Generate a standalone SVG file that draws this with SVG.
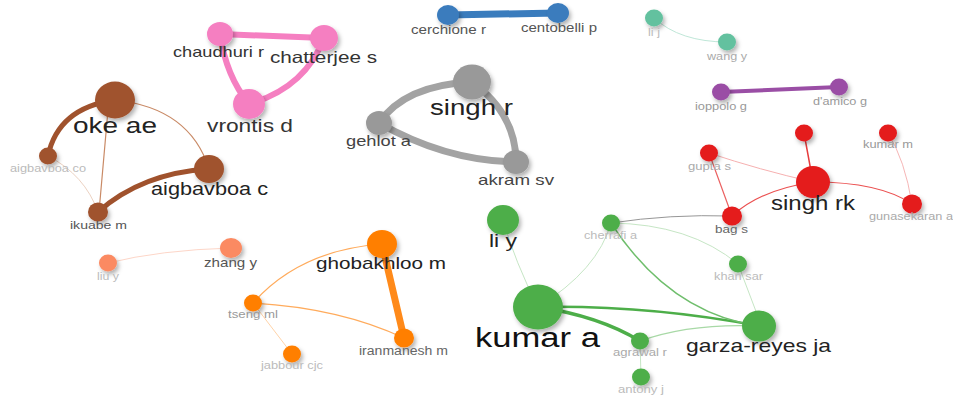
<svg xmlns="http://www.w3.org/2000/svg" width="953" height="398" viewBox="0 0 953 398">
<defs>
<filter id="sh" x="-50%" y="-50%" width="200%" height="200%">
<feDropShadow dx="2" dy="3" stdDeviation="2" flood-color="#000" flood-opacity="0.3"/>
</filter>
</defs>
<style>
text{font-family:"Liberation Sans",Arial,sans-serif;text-anchor:middle}
.e{fill:none;stroke-linecap:round}
.n{filter:url(#sh)}
.br{fill:#a0522d}.pk{fill:#f57fc1}.gy{fill:#999}.bl{fill:#3a7cbd}.tl{fill:#63c19f}.pu{fill:#9a4ea5}.rd{fill:#e41a1c}.gr{fill:#4dae49}.or{fill:#ff7f00}.sa{fill:#fb8a62}
</style>
<rect width="953" height="398" fill="#fff"/>
<g id="connectors">
<path class="e" d="M48,156 Q58,108 115,100" stroke="#a0522d" stroke-width="5"/>
<path class="e" d="M115,100 Q190,108 209,169" stroke="#c98a66" stroke-width="1.2"/>
<path class="e" d="M108,110 L99,212" stroke="#c98a66" stroke-width="1.2"/>
<path class="e" d="M48,156 Q85,175 98,212" stroke="#ecd2c2" stroke-width="1"/>
<path class="e" d="M98,212 Q142,173 209,169" stroke="#a0522d" stroke-width="5"/>
<path class="e" d="M220,34 L324,38" stroke="#f57fc1" stroke-width="6"/>
<path class="e" d="M220,34 Q226,76 249,104" stroke="#f57fc1" stroke-width="6"/>
<path class="e" d="M324,38 Q305,88 249,104" stroke="#f57fc1" stroke-width="6"/>
<path class="e" d="M472,82 Q405,85 379,123" stroke="#a3a3a3" stroke-width="7"/>
<path class="e" d="M379,123 Q446,161 516,162" stroke="#a3a3a3" stroke-width="7"/>
<path class="e" d="M472,82 Q516,114 516,162" stroke="#a3a3a3" stroke-width="7"/>
<path class="e" d="M448,15 L558,13" stroke="#3a7cbd" stroke-width="7"/>
<path class="e" d="M654,18 Q680,42 727,42" stroke="#bfe7d8" stroke-width="1"/>
<path class="e" d="M721,92 L839,87" stroke="#9a4ea5" stroke-width="4"/>
<path class="e" d="M804,133 L813,182" stroke="#e63d3e" stroke-width="1.5"/>
<path class="e" d="M709,153 Q760,170 813,182" stroke="#f6b0b0" stroke-width="1"/>
<path class="e" d="M709,153 L732,216" stroke="#eb6161" stroke-width="1.2"/>
<path class="e" d="M732,216 Q760,190 813,182" stroke="#eb5050" stroke-width="1.2"/>
<path class="e" d="M813,182 Q880,182 912,204" stroke="#eb5050" stroke-width="1.2"/>
<path class="e" d="M888,133 Q905,160 912,204" stroke="#f6b6b6" stroke-width="1"/>
<path class="e" d="M611,223 Q670,214 732,216" stroke="#8a8a8a" stroke-width="0.9"/>
<path class="e" d="M503,220 Q515,262 538,307" stroke="#c6e6c5" stroke-width="1"/>
<path class="e" d="M538,307 Q598,270 611,223" stroke="#c6e6c5" stroke-width="1"/>
<path class="e" d="M538,307 Q648,305 759,326" stroke="#4dae49" stroke-width="2.5"/>
<path class="e" d="M538,307 Q599,316 640,341" stroke="#4dae49" stroke-width="3.5"/>
<path class="e" d="M640,341 Q690,323 759,326" stroke="#a8d9a6" stroke-width="1.2"/>
<path class="e" d="M611,223 C635,260 680,315 759,326" stroke="#6fbe6c" stroke-width="1.5"/>
<path class="e" d="M611,223 Q690,224 738,264" stroke="#c6e6c5" stroke-width="1"/>
<path class="e" d="M738,264 L757,314" stroke="#c6e6c5" stroke-width="1"/>
<path class="e" d="M640,341 L641,377" stroke="#c6e6c5" stroke-width="1"/>
<path class="e" d="M382,244 L404,338" stroke="#ff8a1a" stroke-width="7"/>
<path class="e" d="M382,244 Q300,250 253,303" stroke="#ffab5c" stroke-width="1.2"/>
<path class="e" d="M253,303 Q340,308 404,338" stroke="#ffab5c" stroke-width="1.2"/>
<path class="e" d="M253,303 L292,354" stroke="#ffd3a8" stroke-width="1"/>
<path class="e" d="M108,263 Q160,250 231,248" stroke="#fdd6c8" stroke-width="1"/>
</g>
<g id="n-oke-ae"><ellipse class="n br" cx="115" cy="100" rx="20" ry="18.5"/><text x="115" y="133" font-size="22" textLength="84" lengthAdjust="spacingAndGlyphs" fill="#222">oke ae</text></g>
<g id="n-aigbavboa-co"><ellipse class="n br" cx="48" cy="156" rx="9" ry="8.5"/><text x="48" y="172" font-size="10.5" textLength="76" lengthAdjust="spacingAndGlyphs" fill="#bbb">aigbavboa co</text></g>
<g id="n-aigbavboa-c"><ellipse class="n br" cx="209" cy="169" rx="15" ry="14"/><text x="209.5" y="195" font-size="17.5" textLength="117" lengthAdjust="spacingAndGlyphs" fill="#222">aigbavboa c</text></g>
<g id="n-ikuabe-m"><ellipse class="n br" cx="98" cy="212" rx="10" ry="9.5"/><text x="98.5" y="229" font-size="11.5" textLength="57" lengthAdjust="spacingAndGlyphs" fill="#555">ikuabe m</text></g>
<g id="n-chaudhuri-r"><ellipse class="n pk" cx="220" cy="34" rx="13" ry="12"/><text x="218.5" y="57" font-size="15" textLength="91" lengthAdjust="spacingAndGlyphs" fill="#333">chaudhuri r</text></g>
<g id="n-chatterjee-s"><ellipse class="n pk" cx="324" cy="38" rx="14" ry="13"/><text x="323.5" y="63" font-size="16.5" textLength="107" lengthAdjust="spacingAndGlyphs" fill="#333">chatterjee s</text></g>
<g id="n-vrontis-d"><ellipse class="n pk" cx="249" cy="104" rx="16" ry="15"/><text x="250" y="132" font-size="18.5" textLength="86" lengthAdjust="spacingAndGlyphs" fill="#333">vrontis d</text></g>
<g id="n-singh-r"><ellipse class="n gy" cx="472" cy="82" rx="19" ry="17.5"/><text x="471.5" y="115" font-size="22.5" textLength="83" lengthAdjust="spacingAndGlyphs" fill="#222">singh r</text></g>
<g id="n-gehlot-a"><ellipse class="n gy" cx="379" cy="123" rx="13" ry="12"/><text x="378.5" y="146" font-size="15" textLength="65" lengthAdjust="spacingAndGlyphs" fill="#444">gehlot a</text></g>
<g id="n-akram-sv"><ellipse class="n gy" cx="516" cy="162" rx="13" ry="12"/><text x="516" y="185" font-size="15" textLength="76" lengthAdjust="spacingAndGlyphs" fill="#444">akram sv</text></g>
<g id="n-cerchione-r"><ellipse class="n bl" cx="448" cy="15" rx="11" ry="10"/><text x="448.5" y="34" font-size="12.5" textLength="75" lengthAdjust="spacingAndGlyphs" fill="#555">cerchione r</text></g>
<g id="n-centobelli-p"><ellipse class="n bl" cx="558" cy="13" rx="11" ry="10"/><text x="559" y="32" font-size="12.5" textLength="76" lengthAdjust="spacingAndGlyphs" fill="#555">centobelli p</text></g>
<g id="n-li-j"><ellipse class="n tl" cx="654" cy="18" rx="9" ry="8.5"/><text x="654" y="36" font-size="10" textLength="12" lengthAdjust="spacingAndGlyphs" fill="#bbb">li j</text></g>
<g id="n-wang-y"><ellipse class="n tl" cx="727" cy="42" rx="9" ry="8.5"/><text x="727" y="60" font-size="10" textLength="40" lengthAdjust="spacingAndGlyphs" fill="#aaa">wang y</text></g>
<g id="n-ioppolo-g"><ellipse class="n pu" cx="721" cy="92" rx="9" ry="8.5"/><text x="721" y="110" font-size="10.5" textLength="52" lengthAdjust="spacingAndGlyphs" fill="#999">ioppolo g</text></g>
<g id="n-damico-g"><ellipse class="n pu" cx="839" cy="87" rx="9" ry="8.5"/><text x="840" y="105" font-size="10.5" textLength="54" lengthAdjust="spacingAndGlyphs" fill="#999">d'amico g</text></g>
<g id="n-red-top"><ellipse class="n rd" cx="804" cy="133" rx="9" ry="8.5"/></g>
<g id="n-kumar-m"><ellipse class="n rd" cx="888" cy="133" rx="9" ry="8.5"/><text x="888" y="148" font-size="10.5" textLength="50" lengthAdjust="spacingAndGlyphs" fill="#999">kumar m</text></g>
<g id="n-gupta-s"><ellipse class="n rd" cx="709" cy="153" rx="9" ry="8.5"/><text x="709.5" y="170" font-size="10.5" textLength="43" lengthAdjust="spacingAndGlyphs" fill="#aaa">gupta s</text></g>
<g id="n-singh-rk"><ellipse class="n rd" cx="813" cy="182" rx="17" ry="16"/><text x="813" y="210" font-size="19.5" textLength="84" lengthAdjust="spacingAndGlyphs" fill="#222">singh rk</text></g>
<g id="n-bag-s"><ellipse class="n rd" cx="732" cy="216" rx="10" ry="9.5"/><text x="731.5" y="233" font-size="11" textLength="33" lengthAdjust="spacingAndGlyphs" fill="#666">bag s</text></g>
<g id="n-gunasekaran-a"><ellipse class="n rd" cx="912" cy="204" rx="10" ry="9.5"/><text x="911" y="220" font-size="10.5" textLength="84" lengthAdjust="spacingAndGlyphs" fill="#aaa">gunasekaran a</text></g>
<g id="n-li-y"><ellipse class="n gr" cx="503" cy="220" rx="16" ry="15"/><text x="503" y="247" font-size="19" textLength="28" lengthAdjust="spacingAndGlyphs" fill="#222">li y</text></g>
<g id="n-cherrafi-a"><ellipse class="n gr" cx="611" cy="223" rx="9" ry="8.5"/><text x="610.5" y="239" font-size="10.5" textLength="53" lengthAdjust="spacingAndGlyphs" fill="#bbb">cherrafi a</text></g>
<g id="n-khan-sar"><ellipse class="n gr" cx="738" cy="264" rx="9" ry="8.5"/><text x="738.5" y="280" font-size="10.5" textLength="49" lengthAdjust="spacingAndGlyphs" fill="#bbb">khan sar</text></g>
<g id="n-kumar-a"><ellipse class="n gr" cx="538" cy="307" rx="25" ry="22.5"/><text x="537.5" y="347" font-size="27" textLength="125" lengthAdjust="spacingAndGlyphs" fill="#111">kumar a</text></g>
<g id="n-garza-reyes-ja"><ellipse class="n gr" cx="759" cy="326" rx="17" ry="15.5"/><text x="758.5" y="352" font-size="18.5" textLength="145" lengthAdjust="spacingAndGlyphs" fill="#222">garza-reyes ja</text></g>
<g id="n-agrawal-r"><ellipse class="n gr" cx="640" cy="341" rx="9" ry="8.5"/><text x="640" y="356" font-size="10.5" textLength="54" lengthAdjust="spacingAndGlyphs" fill="#aaa">agrawal r</text></g>
<g id="n-antony-j"><ellipse class="n gr" cx="641" cy="377" rx="9" ry="8.5"/><text x="641" y="393" font-size="10.5" textLength="46" lengthAdjust="spacingAndGlyphs" fill="#bbb">antony j</text></g>
<g id="n-liu-y"><ellipse class="n sa" cx="108" cy="263" rx="9" ry="8.5"/><text x="108" y="280" font-size="10.5" textLength="22" lengthAdjust="spacingAndGlyphs" fill="#bbb">liu y</text></g>
<g id="n-zhang-y"><ellipse class="n sa" cx="231" cy="248" rx="11" ry="10"/><text x="230.5" y="267" font-size="13" textLength="53" lengthAdjust="spacingAndGlyphs" fill="#555">zhang y</text></g>
<g id="n-ghobakhloo-m"><ellipse class="n or" cx="382" cy="244" rx="15" ry="14"/><text x="381" y="269" font-size="17" textLength="130" lengthAdjust="spacingAndGlyphs" fill="#222">ghobakhloo m</text></g>
<g id="n-tseng-ml"><ellipse class="n or" cx="253" cy="303" rx="9" ry="8.5"/><text x="253" y="318" font-size="10.5" textLength="50" lengthAdjust="spacingAndGlyphs" fill="#999">tseng ml</text></g>
<g id="n-iranmanesh-m"><ellipse class="n or" cx="404" cy="338" rx="10" ry="9.5"/><text x="403.5" y="355" font-size="12" textLength="89" lengthAdjust="spacingAndGlyphs" fill="#666">iranmanesh m</text></g>
<g id="n-jabbour-cjc"><ellipse class="n or" cx="292" cy="354" rx="9" ry="8.5"/><text x="292" y="369" font-size="10.5" textLength="62" lengthAdjust="spacingAndGlyphs" fill="#bbb">jabbour cjc</text></g>
</svg>
